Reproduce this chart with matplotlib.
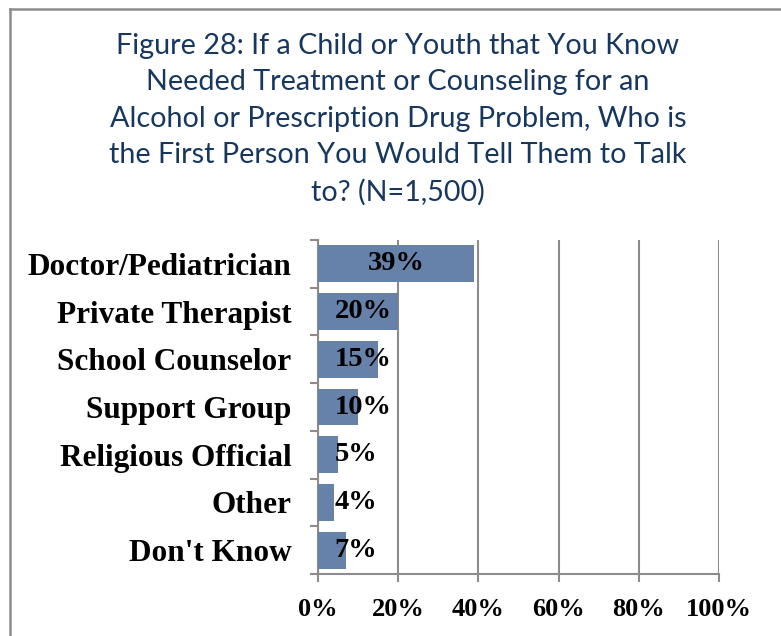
import matplotlib
matplotlib.use("Agg")
import matplotlib.pyplot as plt
from matplotlib.lines import Line2D
from matplotlib.ticker import FuncFormatter

categories = ["Doctor/Pediatrician", "Private Therapist", "School Counselor",
              "Support Group", "Religious Official", "Other", "Don't Know"]
values = [39, 20, 15, 10, 5, 4, 7]
x_ticks = [0, 20, 40, 60, 80, 100]

title = ("Figure 28: If a Child or Youth that You Know\n"
         "Needed Treatment or Counseling for an\n"
         "Alcohol or Prescription Drug Problem, Who is\n"
         "the First Person You Would Tell Them to Talk\n"
         "to? (N=1,500)")

bar_color = "#6782aa"
grid_color = "#8c8c8c"
title_color = "#17375e"
serif = ["Liberation Serif", "DejaVu Serif"]

fig = plt.figure(figsize=(7.81, 6.36), dpi=100)
ax = fig.add_axes([318 / 781, 1 - 574 / 636, 401 / 781, 334 / 636])

ypos = list(range(len(categories)))
ax.barh(ypos, values, height=0.77, color=bar_color, zorder=3)
ax.set_ylim(len(categories) - 0.5, -0.5)
ax.set_xlim(0, 100)

ax.set_yticks([i - 0.5 for i in range(len(categories) + 1)], minor=False)
ax.set_yticklabels([])
ax.set_yticks(ypos, minor=True)
ax.set_yticklabels(categories, minor=True, fontfamily=serif,
                   fontweight="bold", fontsize=22.5)
ax.tick_params(axis="y", which="minor", length=0, pad=19)
ax.tick_params(axis="y", which="major", length=6, width=1.5, color=grid_color)

ax.set_xticks(x_ticks)
ax.xaxis.set_major_formatter(FuncFormatter(lambda v, _: f"{v:.0f}%"))
for lbl in ax.get_xticklabels():
    lbl.set_fontfamily(serif)
    lbl.set_fontweight("bold")
    lbl.set_fontsize(19)
ax.tick_params(axis="x", length=6, width=1.5, color=grid_color, pad=11)

ax.grid(axis="x", color=grid_color, linewidth=1.5, zorder=0)
for side in ("top", "right"):
    ax.spines[side].set_visible(False)
for side in ("left", "bottom"):
    ax.spines[side].set_color(grid_color)
    ax.spines[side].set_linewidth(1.5)

# value labels: centred in wide bars, anchored near the axis for short ones
for y, v in zip(ypos, values):
    if v >= 30:
        ax.text(v / 2, y, f"{v}%", ha="center", va="center", fontfamily=serif,
                fontweight="bold", fontsize=20.5, zorder=4)
    else:
        ax.text(4.2, y, f"{v}%", ha="left", va="center", fontfamily=serif,
                fontweight="bold", fontsize=20.5, zorder=4)

fig.text(398 / 781, 1 - 119.5 / 636, title, ha="center", va="center",
         fontsize=20.7, color=title_color, family=["Lato", "DejaVu Sans"],
         linespacing=1.5)

# frame lines along the top and left edges
fig.add_artist(Line2D([10 / 781, 10 / 781], [0, 1 - 9 / 636],
                      transform=fig.transFigure, color=grid_color, linewidth=1.8))
fig.add_artist(Line2D([10 / 781, 1], [1 - 9 / 636, 1 - 9 / 636],
                      transform=fig.transFigure, color=grid_color, linewidth=1.8))

fig.savefig("out.png", dpi=100)
